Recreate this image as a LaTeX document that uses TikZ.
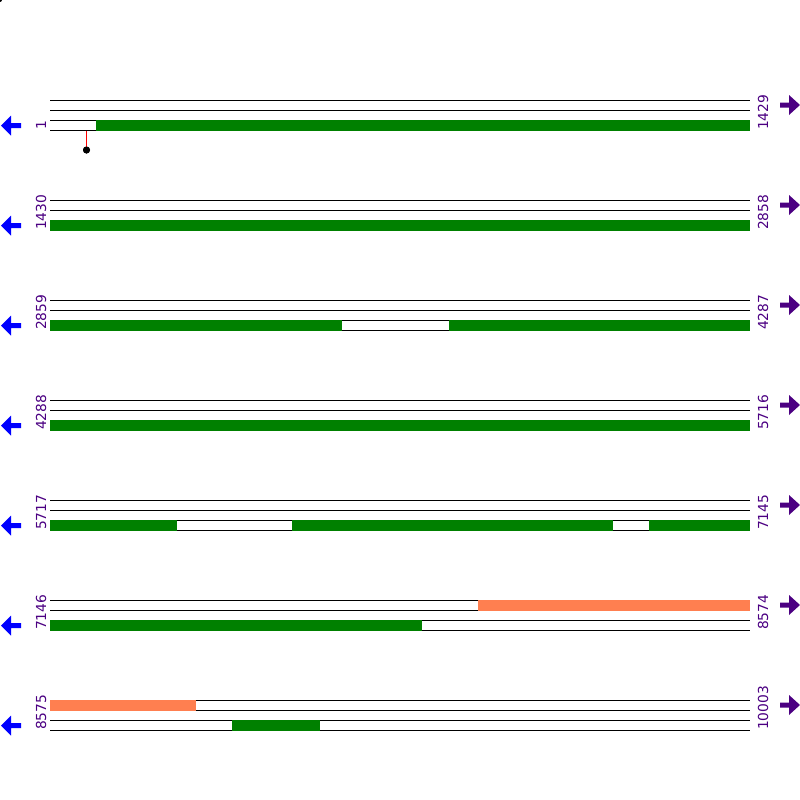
\documentclass[tikz,border=0pt]{standalone}
\usepackage{fontspec}
\setmainfont{DejaVu Sans}
\definecolor{fgreen}{HTML}{008000}
\definecolor{forange}{HTML}{FF7F50}
\definecolor{lblue}{HTML}{0000FF}
\definecolor{rpurple}{HTML}{4B0082}
\begin{document}
\begin{tikzpicture}[x=1pt,y=-1pt,
  trackline/.style={draw=black,line width=1pt},
  greenbar/.style={fill=fgreen},
  orangebar/.style={fill=forange},
  poslabel/.style={rotate=90,anchor=base west,inner sep=0pt,text=rpurple,font=\fontsize{13.8}{14}\selectfont},
  leftarrow/.style={fill=lblue},
  rightarrow/.style={fill=rpurple}]
\useasboundingbox (0,0) rectangle (800,800);
\fill[black] (0,0) circle (2);
% rows
\foreach \b/\l/\r in {100/1/1429,200/1430/2858,300/2859/4287,400/4288/5716,500/5717/7145,600/7146/8574,700/8575/10003}{
  \foreach \o in {0,10,20,30}{
    \draw[trackline] (50,\b+\o) -- (750,\b+\o);
  }
  \node[poslabel] (L\b) at (46,\b+30) {\l};
  \node[poslabel] (R\b) at (768,\b+30) {\r};
  \fill[leftarrow] (1,\b+25.5) -- (11,\b+15.5) -- (11,\b+23) -- (21,\b+23) -- (21,\b+28) -- (11,\b+28) -- (11,\b+35.5) -- cycle;
  \fill[rightarrow] (800,\b+5) -- (789,\b-5) -- (789,\b+2.5) -- (780,\b+2.5) -- (780,\b+7.5) -- (789,\b+7.5) -- (789,\b+15) -- cycle;
}
% row 1
\fill[greenbar] (96,119.5) rectangle (750,130.5);
\coordinate (stemtop) at (86.5,130.5);
\node[circle,fill=black,inner sep=0pt,minimum size=7pt] (dot) at (86.5,150) {};
\draw[red,line width=1pt] (stemtop) -- (dot.center);
\node[circle,fill=black,inner sep=0pt,minimum size=7pt] at (86.5,150) {};
% row 2
\fill[greenbar] (50,219.5) rectangle (750,230.5);
% row 3
\fill[greenbar] (50,319.5) rectangle (342,330.5);
\fill[greenbar] (449,319.5) rectangle (750,330.5);
% row 4
\fill[greenbar] (50,419.5) rectangle (750,430.5);
% row 5
\fill[greenbar] (50,519.5) rectangle (177,530.5);
\fill[greenbar] (292,519.5) rectangle (613,530.5);
\fill[greenbar] (649,519.5) rectangle (750,530.5);
% row 6
\fill[orangebar] (478,599.5) rectangle (750,610.5);
\fill[greenbar] (50,619.5) rectangle (422,630.5);
% row 7
\fill[orangebar] (50,699.5) rectangle (196,710.5);
\fill[greenbar] (232,719.5) rectangle (320,730.5);
\end{tikzpicture}
\end{document}
